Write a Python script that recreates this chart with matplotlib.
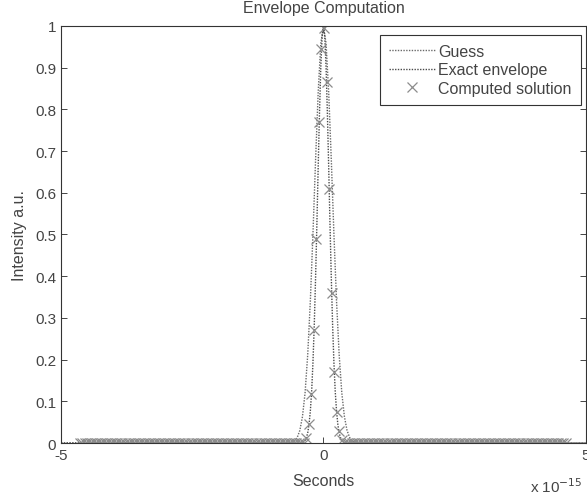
import numpy as np
import matplotlib.pyplot as plt

plt.rcParams['font.family'] = ['Liberation Sans', 'DejaVu Sans']

# time in units of 1e-15 s
guess_t = [-5, -0.7, -0.65, -0.6, -0.55, -0.5, -0.45, -0.4, -0.35, -0.3, -0.25, -0.2, -0.15, -0.1, -0.05,
           0, 0.05, 0.1, 0.15, 0.2, 0.25, 0.3, 0.35, 0.4, 0.45, 0.5, 0.55, 0.6, 0.65, 0.7, 5]
guess_y = [0, 0, 0.001, 0.002, 0.005, 0.013, 0.030, 0.063, 0.120, 0.211, 0.339, 0.500, 0.678, 0.841, 0.958,
           1.0, 0.958, 0.841, 0.678, 0.500, 0.339, 0.211, 0.120, 0.063, 0.030, 0.013, 0.005, 0.002, 0.001, 0, 0]

exact_t = [-5, -0.45, -0.4, -0.35, -0.325, -0.3, -0.275, -0.25, -0.225, -0.2, -0.175, -0.15, -0.125, -0.1,
           -0.075, -0.05, -0.025, 0, 0.025, 0.05, 0.075, 0.1, 0.125, 0.15, 0.175, 0.2, 0.225, 0.25, 0.275,
           0.3, 0.325, 0.35, 0.4, 0.45, 5]
exact_y = [0, 0, 0.001, 0.006, 0.013, 0.024, 0.044, 0.076, 0.123, 0.192, 0.282, 0.395, 0.524, 0.662,
           0.792, 0.902, 0.974, 1.0, 0.974, 0.902, 0.792, 0.662, 0.524, 0.395, 0.282, 0.192, 0.123, 0.076, 0.044,
           0.024, 0.013, 0.006, 0.001, 0, 0]

# computed solution: peak samples
comp_peak_t = [-0.325, -0.277, -0.229, -0.181, -0.133, -0.085, -0.037, 0.011,
               0.059, 0.107, 0.155, 0.203, 0.251, 0.299, 0.347]
comp_peak_y = [0.013, 0.045, 0.118, 0.27, 0.49, 0.77, 0.945, 0.995,
               0.866, 0.61, 0.36, 0.17, 0.074, 0.03, 0.007]
# baseline samples (all zero), sample grid 0.048e-15
grid = np.round(np.arange(-4.645, 4.64, 0.048), 3)
comp_base_t = [t for t in grid if abs(t) > 0.36]
comp_base_y = [0.0] * len(comp_base_t)

comp_t = sorted(comp_base_t + comp_peak_t)
lookup = dict(zip(comp_base_t + comp_peak_t, comp_base_y + comp_peak_y))
comp_y = [lookup[t] for t in comp_t]

fig = plt.figure(figsize=(5.87, 5.02), dpi=100)
ax = fig.add_axes([0.104, 0.1155, 0.894, 0.831])

tc = '#444444'
ax.plot(guess_t, guess_y, linestyle=(0, (1, 1)), color='#6a6a6a', lw=1.0, label='Guess')
ax.plot(exact_t, exact_y, linestyle=(0, (1, 1)), color='#4a4a4a', lw=1.0, label='Exact envelope')
ax.plot(comp_t, comp_y, 'x', color='#8c8c8c', ms=7, mew=0.9, label='Computed solution')

ax.set_xlim(-5, 5)
ax.set_ylim(0, 1)
ax.set_xticks([-5, 0, 5])
ax.set_xticklabels(['-5', '0', '5'])
ax.set_yticks(np.arange(0, 1.01, 0.1))
ax.set_yticklabels(['0', '0.1', '0.2', '0.3', '0.4', '0.5', '0.6', '0.7', '0.8', '0.9', '1'])
ax.tick_params(direction='in', top=True, right=True, labelsize=11, colors=tc, length=4, width=0.7)
for s in ax.spines.values():
    s.set_color('#333333')
    s.set_linewidth(0.8)

ax.set_title('Envelope Computation', fontsize=11.5, color=tc, pad=10)
ax.set_xlabel('Seconds', fontsize=11.5, color=tc, labelpad=8)
ax.set_ylabel('Intensity a.u.', fontsize=11.5, color=tc, labelpad=6)
fig.text(0.903, 0.018, r'x 10$^{-15}$', fontsize=11, color=tc)

leg = ax.legend(loc='upper right', fontsize=11.5, handlelength=2.9, handletextpad=0.2,
                borderpad=0.55, labelspacing=0.22, fancybox=False, framealpha=1,
                borderaxespad=0, bbox_to_anchor=(0.99, 0.978))
leg.get_frame().set_edgecolor('#333333')
leg.get_frame().set_linewidth(0.8)
for t in leg.get_texts():
    t.set_color(tc)

fig.savefig('out.png', dpi=100)
